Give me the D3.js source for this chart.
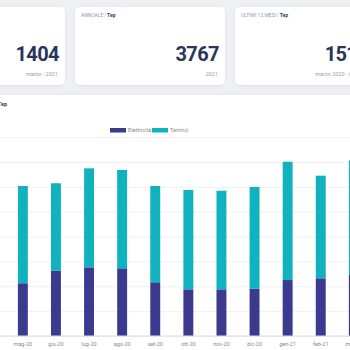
<!DOCTYPE html>
<html>
<head>
<meta charset="utf-8">
<script src="https://cdn.jsdelivr.net/npm/d3@7"></script>
<style>
  html, body { margin: 0; padding: 0; background: #eef0f4; overflow: hidden; }
  svg { display: block; font-family: Roboto, "Noto Sans", sans-serif; }
</style>
</head>
<body>
<svg id="chart" width="350" height="350"></svg>
<script>
// months shown (stacked bars, Tep)
const months = ["mag-20", "giu-20", "lug-20", "ago-20", "set-20", "ott-20", "nov-20", "dic-20", "gen-21", "feb-21", "mar-21"];
const elettricita = [424, 525, 552, 544, 432, 375, 375, 380, 450, 464, 493];
const termici = [782, 703, 796, 791, 774, 799, 793, 818, 951, 825, 919];
const seriesNames = ["Elettricità", "Termici"];
const seriesColors = ["#3b3a8e", "#10b3bd"];
const yTicks = [0, 200, 400, 600, 800, 1000, 1200, 1400, 1600];

// KPI cards
const cards = [
  { title: "MENSILE", value: "1404", sub: "marzo - 2021" },
  { title: "ANNUALE", value: "3767", sub: "2021" },
  { title: "ULTIMI 12 MESI", value: "15163", sub: "marzo 2020 - marzo 2021" }
];

const width = 350, height = 350;
const svg = d3.select("#chart");

const defs = svg.append("defs");
const f = defs.append("filter").attr("id", "shadow").attr("x", "-10%").attr("y", "-10%").attr("width", "120%").attr("height", "130%");
f.append("feDropShadow").attr("dx", 0).attr("dy", 1).attr("stdDeviation", 1.5).attr("flood-color", "#8a90a8").attr("flood-opacity", 0.18);

// cards
const cardW = 150, cardGap = 10, cardX0 = -85, cardY = 7, cardH = 78;
const card = svg.append("g").selectAll("g")
  .data(cards)
  .join("g")
  .attr("transform", (d, i) => `translate(${cardX0 + i * (cardW + cardGap)},${cardY})`);

card.append("rect")
  .attr("width", cardW).attr("height", cardH)
  .attr("rx", 5)
  .attr("fill", "#fff")
  .attr("filter", "url(#shadow)");

const ct = card.append("text")
  .attr("x", 6).attr("y", 10)
  .attr("font-size", 5)
  .attr("fill", "#9a9aa6");
ct.append("tspan").text(d => d.title + " | ");
ct.append("tspan").attr("font-weight", "bold").attr("fill", "#3d4150").text("Tep");

card.append("text")
  .attr("x", cardW - 6).attr("y", 54)
  .attr("text-anchor", "end")
  .attr("font-size", 20)
  .attr("font-weight", "bold")
  .attr("letter-spacing", -0.6)
  .attr("fill", "#27365a")
  .text(d => d.value);

card.append("text")
  .attr("x", cardW - 7).attr("y", 69)
  .attr("text-anchor", "end")
  .attr("font-size", 5.5)
  .attr("fill", "#a0a0a8")
  .text(d => d.sub);

// chart panel
svg.append("rect")
  .attr("x", -10).attr("y", 95)
  .attr("width", width + 20).attr("height", 270)
  .attr("rx", 5)
  .attr("fill", "#fff")
  .attr("filter", "url(#shadow)");

const pt = svg.append("text")
  .attr("x", 7).attr("y", 106)
  .attr("text-anchor", "end")
  .attr("font-size", 5.5)
  .attr("fill", "#9a9aa6");
pt.append("tspan").text("CONSUMI | ");
pt.append("tspan").attr("font-weight", "bold").attr("fill", "#3d4150").text("Tep");

// scales
const x = d3.scaleBand(months, [6.3, 6.3 + months.length * 33.1])
  .paddingInner(0.7).paddingOuter(0.35);
const y = d3.scaleLinear([0, 1600], [336, 137]);

// grid
svg.append("g")
  .attr("transform", "translate(-10,0)")
  .call(d3.axisLeft(y).tickValues(yTicks).tickSize(-(width + 20)).tickFormat(""))
  .call(g => g.select(".domain").remove())
  .call(g => g.selectAll(".tick line").attr("stroke", "#ececf0").attr("stroke-width", 0.8));

// stacked bars
const table = months.map((m, i) => ({ month: m, "Elettricità": elettricita[i], "Termici": termici[i] }));
const stack = d3.stack().keys(seriesNames)(table);

svg.append("g")
  .selectAll("g")
  .data(stack)
  .join("g")
  .attr("fill", (d, i) => seriesColors[i])
  .selectAll("rect")
  .data(d => d)
  .join("rect")
  .attr("x", d => x(d.data.month))
  .attr("y", d => y(d[1]))
  .attr("height", d => y(d[0]) - y(d[1]))
  .attr("width", x.bandwidth());

// x axis
svg.append("g")
  .attr("transform", `translate(0,${y(0)})`)
  .call(d3.axisBottom(x).tickSize(0).tickPadding(6))
  .call(g => g.select(".domain").attr("stroke", "#dcdce2").attr("d", `M-10,0H${width + 10}`))
  .call(g => g.selectAll("text").attr("font-size", 5.5).attr("fill", "#8a8a94").attr("font-family", "Roboto, sans-serif"));

// legend
const legend = svg.append("g")
  .selectAll("g")
  .data(seriesNames)
  .join("g")
  .attr("transform", (d, i) => `translate(${110 + i * 42},128)`);
legend.append("rect").attr("width", 16).attr("height", 4.5).attr("fill", (d, i) => seriesColors[i]);
legend.append("text")
  .attr("x", 18).attr("y", 4.3)
  .attr("font-size", 5.5)
  .attr("fill", "#8a8a94")
  .text(d => d);
</script>
</body>
</html>
